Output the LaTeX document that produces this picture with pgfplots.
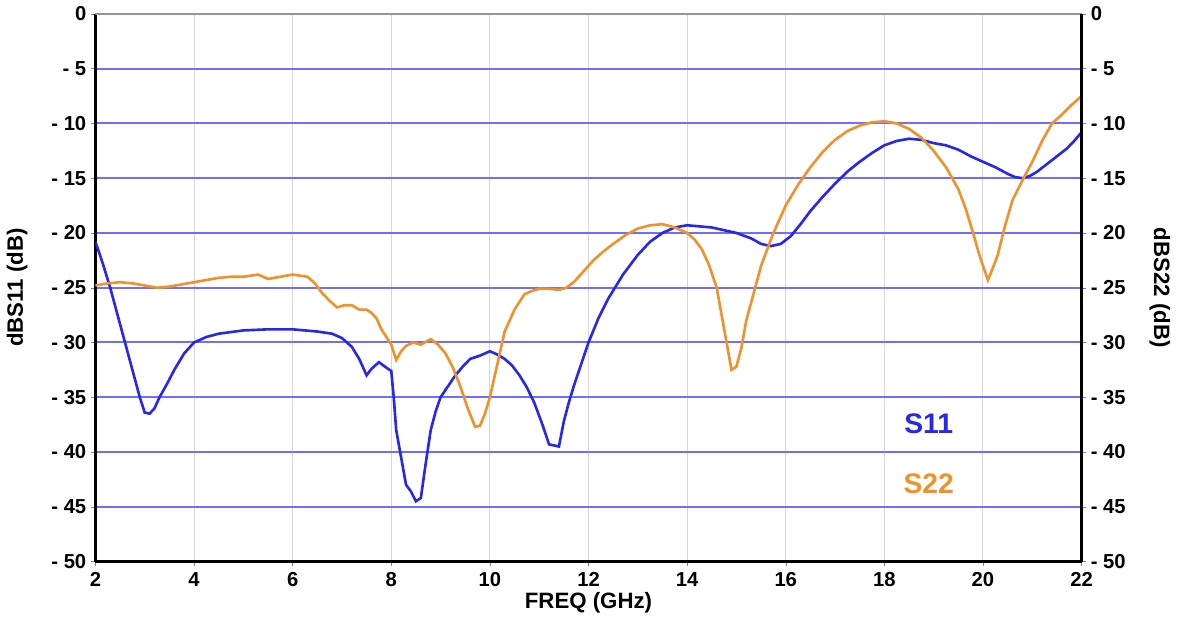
\documentclass[border=0pt]{standalone}
\usepackage{pgfplots}
\pgfplotsset{compat=1.18}
\usepackage{fontspec}
\setmainfont{Liberation Sans}
\definecolor{sblue}{RGB}{40,40,230}
\definecolor{sorange}{RGB}{240,146,42}
\definecolor{gblue}{RGB}{110,110,255}
\definecolor{ggray}{RGB}{215,215,215}
\begin{document}
\begin{tikzpicture}
\pgfplotsset{
  common/.style={
    scale only axis, width=488pt, height=271pt,
    xmin=2, xmax=22, ymin=-50, ymax=0,
    ytick={-50,-45,...,0},
    yticklabels={- 50,- 45,- 40,- 35,- 30,- 25,- 20,- 15,- 10,- 5,0},
    tick label style={font=\bfseries\fontsize{10}{12}\selectfont},
    /pgf/number format/assume math mode=true,
    label style={font=\bfseries\fontsize{11}{13}\selectfont},
    tick align=outside, major tick length=2pt,
  }
}
\begin{axis}[common,
  axis x line*=bottom, axis y line*=left,
  axis line style={black, line width=1.2pt},
  xtick={2,4,...,22},
  xlabel={FREQ (GHz)}, ylabel={dBS11 (dB)},
  xlabel style={yshift=4pt}, ylabel style={yshift=5pt},
  yticklabel style={xshift=1pt},
  grid=major,
  x grid style={ggray, line width=0.5pt},
  y grid style={gblue, line width=1pt},
  clip=true,
]
\draw[ggray!70!black, line width=0.8pt] (axis cs:2,0) -- (axis cs:22,0);
\addplot[sblue, line width=1.3pt] coordinates {
(2.0,-20.8) (2.15,-22.8) (2.3,-25) (2.45,-27.5) (2.6,-30) (2.75,-32.5) (2.9,-35) (3.0,-36.4) (3.1,-36.5) (3.2,-36) (3.3,-35) (3.45,-33.8) (3.6,-32.5) (3.8,-31) (4.0,-30) (4.25,-29.5) (4.5,-29.2) (5.0,-28.9) (5.5,-28.8) (6.0,-28.8) (6.5,-29) (6.8,-29.2) (7.0,-29.6) (7.2,-30.4) (7.35,-31.5) (7.5,-33) (7.6,-32.4) (7.75,-31.8) (7.9,-32.3) (8.0,-32.6) (8.05,-35) (8.1,-38) (8.2,-40.5) (8.3,-43) (8.4,-43.6) (8.5,-44.5) (8.6,-44.2) (8.7,-41) (8.8,-38) (8.9,-36.3) (9.0,-35) (9.15,-34) (9.3,-33) (9.45,-32.2) (9.6,-31.5) (9.8,-31.2) (10.0,-30.8) (10.15,-31.1) (10.3,-31.5) (10.45,-32.1) (10.6,-33) (10.75,-34.1) (10.9,-35.5) (11.05,-37.3) (11.2,-39.3) (11.4,-39.5) (11.5,-37.2) (11.6,-35.5) (11.7,-34) (11.85,-32) (12.0,-30) (12.2,-27.8) (12.4,-26) (12.7,-23.8) (13.0,-22) (13.25,-20.8) (13.5,-20) (13.75,-19.5) (14.0,-19.3) (14.5,-19.5) (15.0,-20) (15.3,-20.5) (15.5,-21) (15.7,-21.2) (15.9,-21) (16.1,-20.3) (16.3,-19.2) (16.5,-18) (16.75,-16.7) (17.0,-15.5) (17.25,-14.4) (17.5,-13.5) (17.75,-12.7) (18.0,-12) (18.25,-11.6) (18.5,-11.4) (18.75,-11.5) (19.0,-11.8) (19.25,-12) (19.5,-12.4) (19.75,-13) (20.0,-13.5) (20.25,-14) (20.5,-14.6) (20.65,-14.9) (20.8,-15) (20.95,-14.8) (21.1,-14.4) (21.3,-13.7) (21.5,-13) (21.7,-12.3) (21.85,-11.6) (22.0,-10.8)
};
\addplot[sorange, line width=1.3pt] coordinates {
(2.0,-24.8) (2.25,-24.6) (2.5,-24.5) (2.75,-24.6) (3.0,-24.8) (3.25,-25) (3.5,-24.9) (3.75,-24.7) (4.0,-24.5) (4.25,-24.3) (4.5,-24.1) (4.75,-24) (5.0,-24) (5.3,-23.8) (5.5,-24.2) (5.75,-24) (6.0,-23.8) (6.3,-24) (6.45,-24.6) (6.6,-25.5) (6.75,-26.2) (6.9,-26.8) (7.05,-26.6) (7.2,-26.6) (7.35,-27) (7.5,-27) (7.6,-27.3) (7.7,-27.8) (7.8,-28.8) (7.9,-29.5) (8.0,-30.2) (8.1,-31.6) (8.2,-30.8) (8.3,-30.3) (8.45,-30) (8.6,-30.2) (8.8,-29.7) (8.95,-30.2) (9.1,-31) (9.25,-32.3) (9.4,-34) (9.55,-36) (9.7,-37.7) (9.8,-37.6) (9.9,-36.5) (10.0,-35) (10.15,-32) (10.3,-29) (10.5,-27) (10.7,-25.6) (10.85,-25.3) (11.0,-25.1) (11.2,-25.1) (11.4,-25.2) (11.55,-25) (11.7,-24.5) (11.9,-23.5) (12.1,-22.5) (12.3,-21.7) (12.5,-21) (12.75,-20.2) (13.0,-19.6) (13.25,-19.3) (13.5,-19.2) (13.75,-19.5) (14.0,-20) (14.15,-20.6) (14.3,-21.5) (14.45,-23) (14.6,-25) (14.7,-27.5) (14.8,-30) (14.9,-32.5) (15.0,-32.2) (15.1,-30.5) (15.2,-28) (15.35,-25.5) (15.5,-23) (15.75,-20) (16.0,-17.5) (16.25,-15.6) (16.5,-14) (16.75,-12.6) (17.0,-11.5) (17.25,-10.7) (17.5,-10.2) (17.75,-9.9) (18.0,-9.8) (18.25,-10) (18.5,-10.5) (18.75,-11.3) (19.0,-12.5) (19.25,-14) (19.5,-16) (19.65,-17.8) (19.8,-20) (19.9,-21.6) (20.0,-23) (20.1,-24.3) (20.2,-23.2) (20.3,-22) (20.45,-19.3) (20.6,-17) (20.8,-15.2) (21.0,-13.5) (21.2,-11.6) (21.4,-10) (21.6,-9.2) (21.8,-8.3) (22.0,-7.5)
};
\node[sblue, font=\bfseries\fontsize{14}{16}\selectfont] at (axis cs:18.9,-37.4) {S11};
\node[sorange, font=\bfseries\fontsize{14}{16}\selectfont] at (axis cs:18.9,-42.9) {S22};
\end{axis}
\begin{axis}[common,
  axis x line=none, axis y line*=right,
  axis line style={black, line width=1.2pt},
  ylabel={dBS22 (dB)},
  yticklabel style={xshift=-1pt},
  ylabel style={rotate=180, yshift=5pt},
]
\end{axis}
\end{tikzpicture}
\end{document}
